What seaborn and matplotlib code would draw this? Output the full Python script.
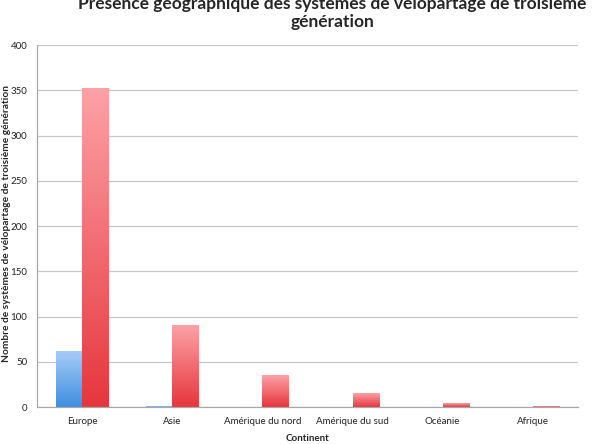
import numpy as np
import pandas as pd
import matplotlib
matplotlib.use('Agg')
import matplotlib.pyplot as plt
import seaborn as sns
from matplotlib.colors import LinearSegmentedColormap

# ── Data ─────────────────────────────────────────────────────────────────────
continents = ['Europe', 'Asie', 'Amérique du nord', 'Amérique du sud', 'Océanie', 'Afrique']
serie_1 = [61, 1, 0, 0, 0, 0]
serie_2 = [352, 90, 35, 15, 4, 1]
y_ticks = [0, 50, 100, 150, 200, 250, 300, 350, 400]

df = pd.DataFrame({
    'Continent': continents * 2,
    'Valeur': serie_1 + serie_2,
    'Série': ['Série 1'] * len(continents) + ['Série 2'] * len(continents),
})

sns.set_style('white')
plt.rcParams['font.family'] = ['Lato', 'DejaVu Sans']

fig = plt.figure(figsize=(5.97, 4.44), dpi=100)
ax = fig.add_axes([0.062, 0.0833, 0.906, 0.815])

sns.barplot(data=df, x='Continent', y='Valeur', hue='Série',
            palette=['#6aa8ec', '#f06068'], width=0.58, legend=False,
            ax=ax, zorder=2)

# gradient fill on every bar (light top -> saturated bottom)
cmaps = {
    'Série 1': LinearSegmentedColormap.from_list('b', ['#3f8fe0', '#a6cbf7']),
    'Série 2': LinearSegmentedColormap.from_list('r', ['#e6363d', '#fca2a6']),
}
grad = np.linspace(0, 1, 256).reshape(-1, 1)
for cont, name in zip(ax.containers, ['Série 1', 'Série 2']):
    for bar in cont:
        x0, w, h = bar.get_x(), bar.get_width(), bar.get_height()
        if h <= 0:
            continue
        bar.set_facecolor('none')
        bar.set_edgecolor('none')
        ax.imshow(grad, cmap=cmaps[name], aspect='auto', origin='lower',
                  extent=[x0, x0 + w, 0, h], zorder=2.5)

ax.set_xlim(-0.5, len(continents) - 0.5)
ax.set_ylim(0, 400)
ax.set_yticks(y_ticks)
ax.yaxis.grid(True, color='#c8c8c8', linewidth=0.9, zorder=0)
ax.set_axisbelow(True)

for s in ['top', 'right']:
    ax.spines[s].set_visible(False)
for s in ['left', 'bottom']:
    ax.spines[s].set_color('#a8a8a8')
    ax.spines[s].set_linewidth(0.9)

# category boundary ticks on the x axis
ax.set_xticks(np.arange(len(continents)))
ax.set_xticklabels(continents)
ax.set_xticks(np.arange(len(continents) + 1) - 0.5, minor=True)
ax.tick_params(axis='x', which='major', length=0, labelsize=7, pad=7, colors='#222222')
ax.tick_params(axis='x', which='minor', length=4, color='#a8a8a8', width=0.9)
ax.tick_params(axis='y', length=4, color='#a8a8a8', width=0.9, labelsize=7,
               colors='#222222', pad=3)
for lbl in ax.get_yticklabels():
    lbl.set_color('#222222')

ax.set_xlabel('Continent', fontsize=7, fontweight='bold', labelpad=6)
ax.set_ylabel('')
fig.text(0.011, 0.497, 'Nombre de systèmes de vélopartage de troisième génération',
         rotation=90, ha='center', va='center', fontsize=7.3, fontweight='bold')

fig.text(0.557, 1.008, 'Présence géographique des systèmes de vélopartage de troisième\ngénération',
         ha='center', va='top', fontsize=12.5, fontweight='bold', linespacing=1.1)

fig.savefig('out.png', dpi=100)
